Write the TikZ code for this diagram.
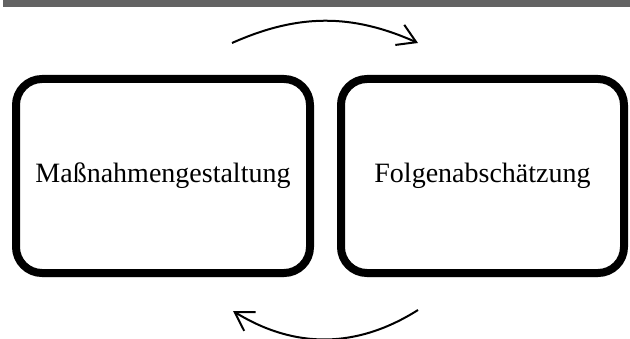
\documentclass[tikz,border=0pt]{standalone}
\usepackage{fontspec}
\setmainfont{Liberation Serif}
\usetikzlibrary{arrows.meta,shadows.blur}

\tikzset{
	stage/.style={draw,fill=white,line width=8pt,rounded corners=26pt,minimum width=#1,minimum height=194pt,
		inner sep=0,outer sep=0,font=\fontsize{28}{32}\selectfont,
		blur shadow={shadow xshift=0pt,shadow yshift=-3pt,shadow blur steps=6,shadow opacity=30}},
	cycle/.style={line width=2pt,-{Straight Barb[length=18pt,width=22pt]}}
}

\begin{document}
\begin{tikzpicture}[x=1pt,y=1pt]
	\useasboundingbox (0,0) rectangle (630,338);
	\fill[black!61] (3,331) rectangle (630,338);
	\node[stage=294pt] (mg) at (163,162) {Maßnahmengestaltung};
	\node[stage=283pt] (fa) at (482.5,162) {Folgenabschätzung};
	\coordinate (t1) at (232,295);
	\coordinate (t2) at (418,295);
	\coordinate (b1) at (418,28);
	\coordinate (b2) at (233,27);
	\draw[cycle] (t1) to[bend left=24] (t2);
	\draw[cycle] (b1) to[bend left=32] (b2);
\end{tikzpicture}
\end{document}
